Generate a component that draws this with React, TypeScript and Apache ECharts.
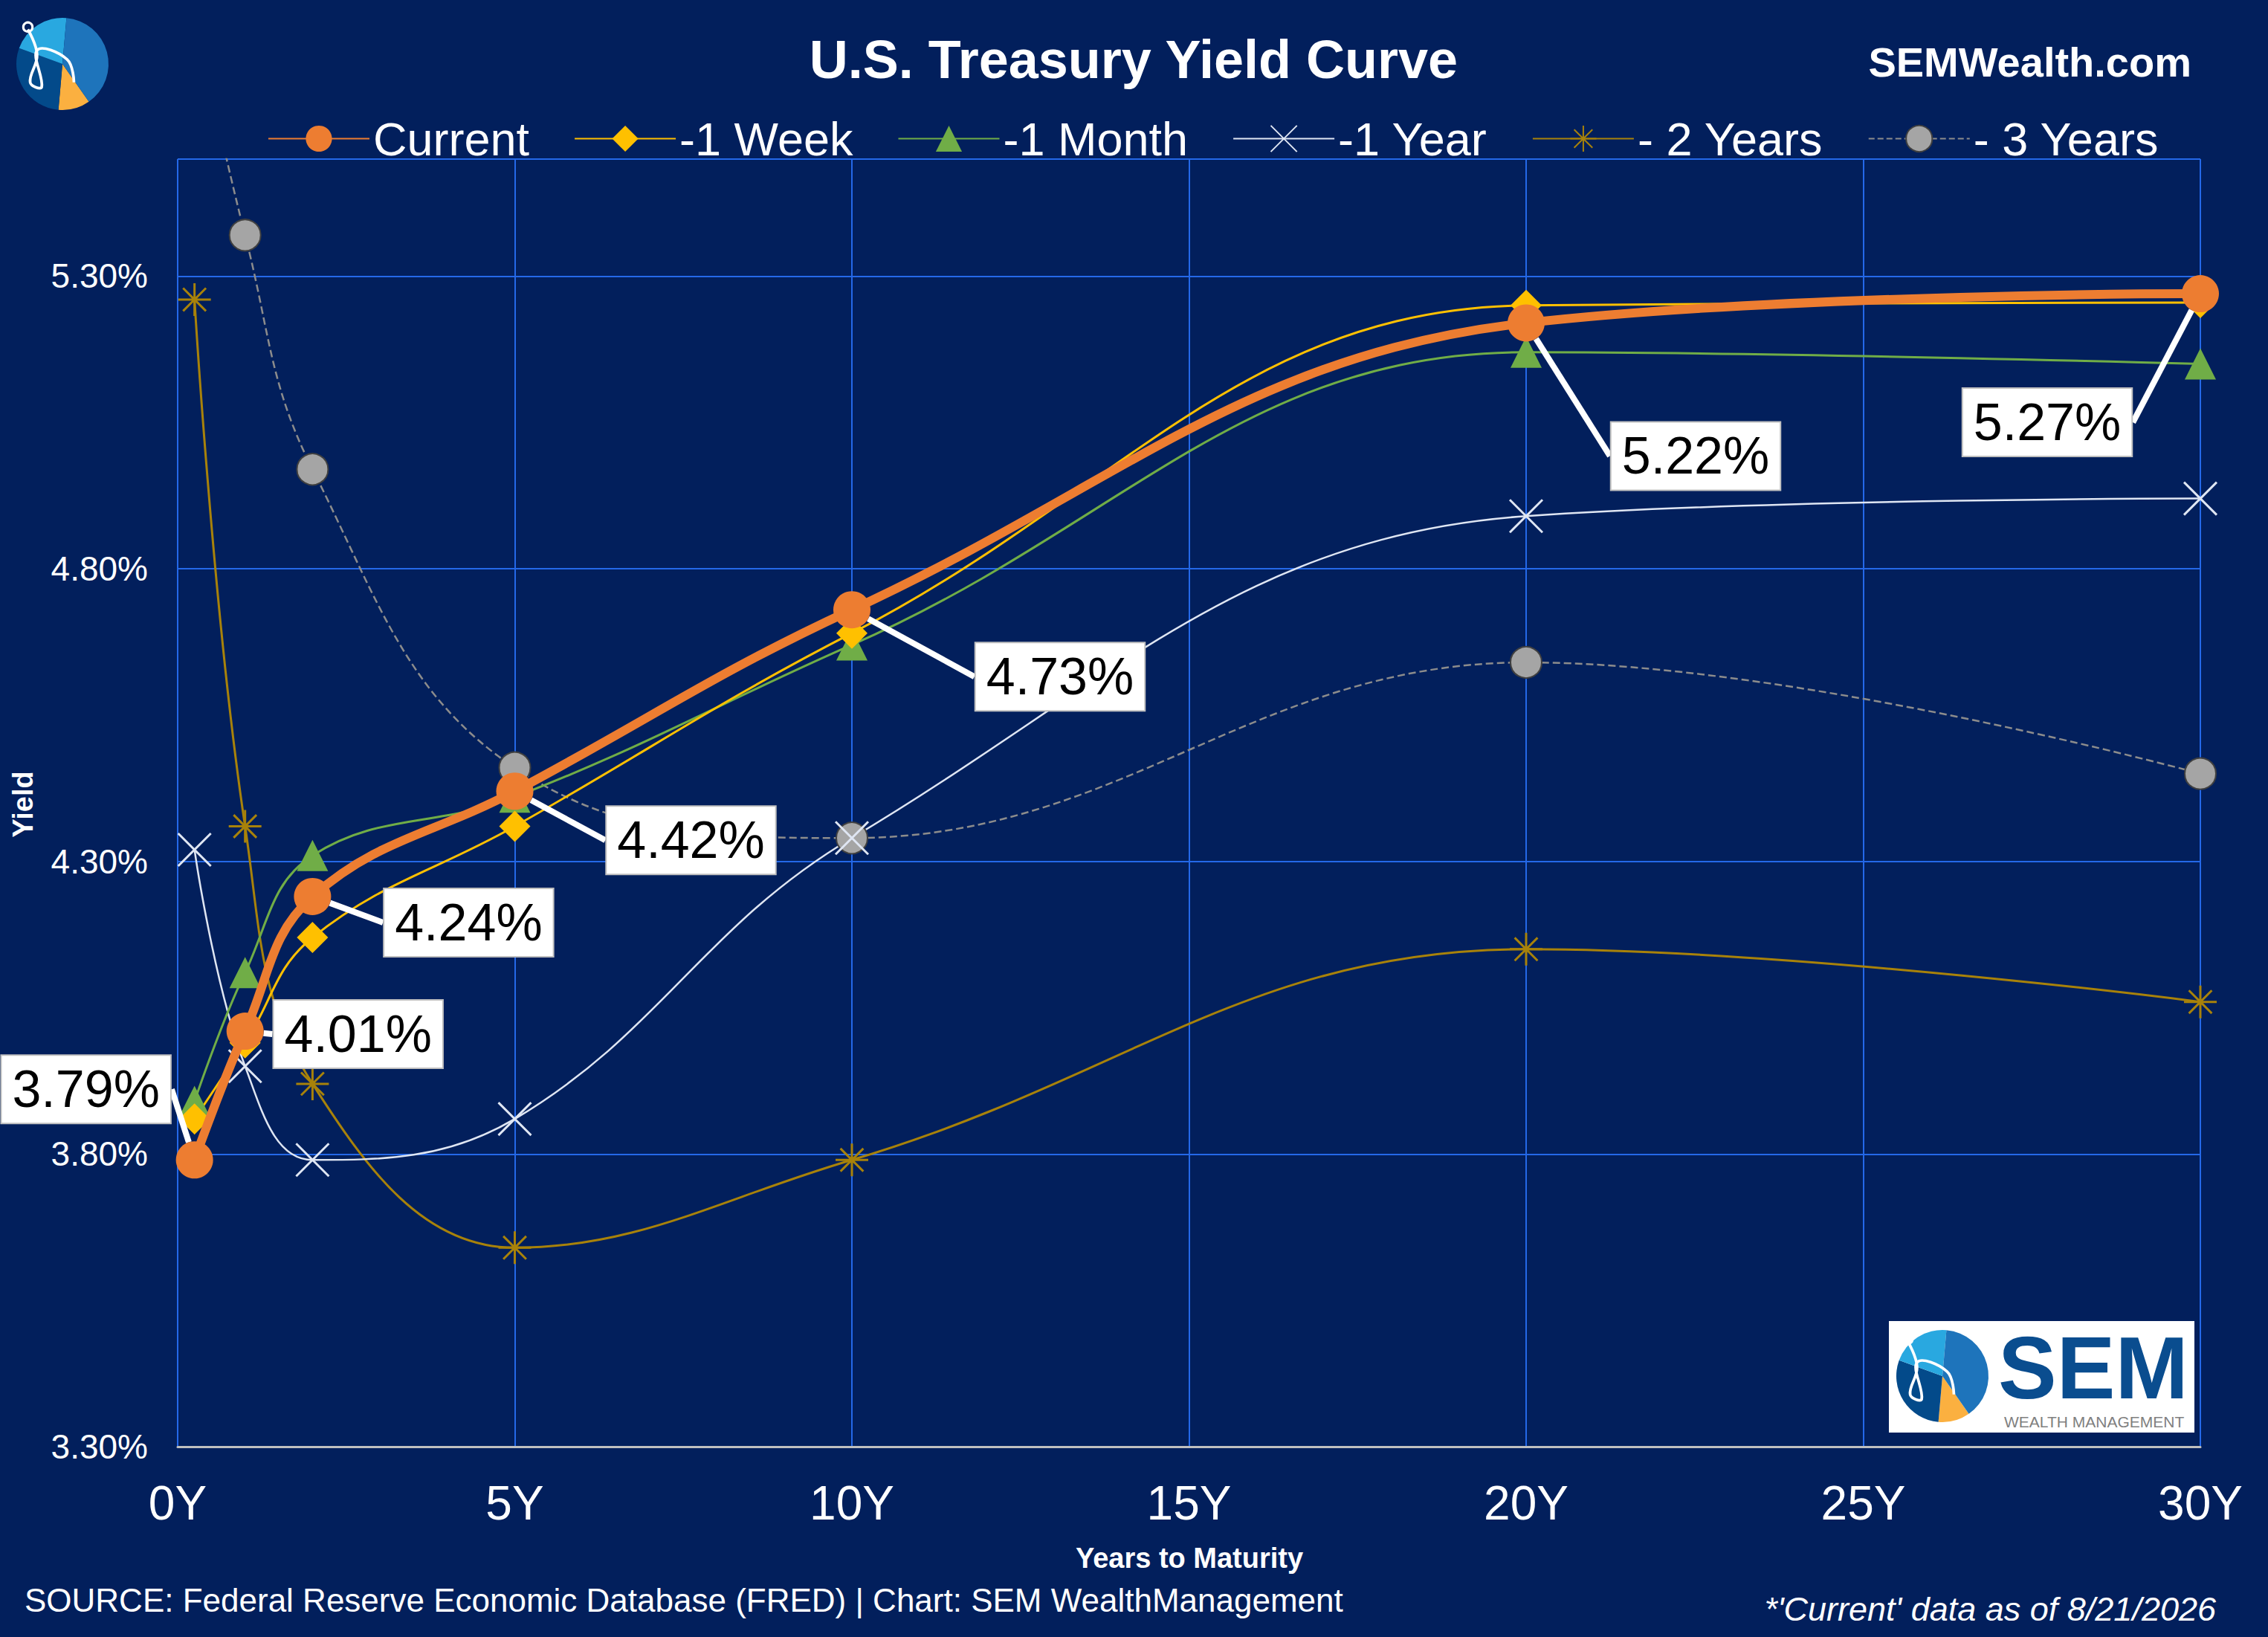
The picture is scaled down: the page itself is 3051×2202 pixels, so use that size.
import { useEffect, useRef } from 'react';
import * as echarts from 'echarts';

const maturities = [0.25, 1, 2, 5, 10, 20, 30];
const current = [3.79, 4.01, 4.24, 4.42, 4.73, 5.22, 5.27];
const oneWeek = [3.86, 3.99, 4.17, 4.36, 4.69, 5.25, 5.255];
const oneMonth = [3.89, 4.11, 4.31, 4.41, 4.67, 5.17, 5.15];
const oneYear = [4.32, 3.95, 3.79, 3.86, 4.34, 4.89, 4.92];
const twoYears = [5.26, 4.36, 3.92, 3.64, 3.79, 4.15, 4.06];
const threeYears = [5.75, 5.37, 4.97, 4.46, 4.34, 4.64, 4.45];
const yTicks = [3.3, 3.8, 4.3, 4.8, 5.3];
// callout offsets for the current-curve labels (px, from the point)
const labelOffsets = [
  [-146, -95], [152, 4], [210, 35], [237, 66], [280, 90], [228, 179], [-206, 173],
];

const BG = '#021f5c';
const FONT = '"Liberation Sans", Arial, sans-serif';

const pairs = (vals: number[]) => maturities.map((m, i) => [m, vals[i]]);

function logo(cx: number, cy: number, r: number) {
  const d = Math.PI / 180;
  const sec = (a: number, b: number, color: string) => ({
    type: 'sector',
    shape: { cx, cy, r, startAngle: a * d, endAngle: b * d },
    style: { fill: color },
  });
  return [
    sec(55, 95, '#fbb040'),
    sec(95, 200, '#034a8a'),
    sec(200, 275, '#29a8e0'),
    sec(275, 415, '#1e74bb'),
    {
      type: 'polyline',
      shape: {
        points: [
          [cx - r * 0.75, cy - r * 0.75], [cx - r * 0.55, cy - r * 0.2],
          [cx - r * 0.7, cy + r * 0.4], [cx - r * 0.45, cy + r * 0.5],
          [cx - r * 0.55, cy - r * 0.3], [cx + r * 0.1, cy - r * 0.1],
          [cx + r * 0.25, cy + r * 0.4],
        ],
        smooth: 0.4,
      },
      style: { stroke: '#fff', lineWidth: r * 0.06, fill: null },
    },
    {
      type: 'circle',
      shape: { cx: cx - r * 0.75, cy: cy - r * 0.8, r: r * 0.1 },
      style: { stroke: '#fff', lineWidth: r * 0.05, fill: null },
    },
  ];
}

export default function App() {
  const ref = useRef<HTMLDivElement>(null);

  useEffect(() => {
    document.body.style.margin = '0';
    if (!ref.current) return;
    const chart = echarts.init(ref.current, undefined, { renderer: 'svg' });

    const lineBase = { type: 'line', smooth: 0.4, smoothMonotone: 'none', clip: true, z: 3 };

    chart.setOption({
      animation: false,
      backgroundColor: BG,
      textStyle: { fontFamily: FONT },
      grid: { left: 239, right: 91, top: 214, bottom: 256 },
      legend: {
        top: 150,
        left: 355,
        itemWidth: 136,
        itemHeight: 44,
        itemGap: 60,
        textStyle: { color: '#fff', fontSize: 63, fontFamily: FONT },
        data: ['Current', '-1 Week', '-1 Month', '-1 Year', '- 2 Years', '- 3 Years'],
      },
      xAxis: {
        type: 'value',
        min: 0,
        max: 30,
        interval: 5,
        axisLine: { lineStyle: { color: '#bfbfbf', width: 3 } },
        axisTick: { show: false },
        axisLabel: { color: '#fff', fontSize: 64, margin: 44, formatter: (v: number) => `${v}Y` },
        splitLine: { lineStyle: { color: '#2468e8', width: 2 } },
      },
      yAxis: {
        type: 'value',
        min: 3.3,
        max: 5.5,
        interval: 0.5,
        axisLine: { show: false },
        axisTick: { show: false },
        axisLabel: {
          color: '#fff',
          fontSize: 46,
          margin: 40,
          formatter: (v: number) => (yTicks.some((t) => Math.abs(t - v) < 1e-6) ? `${v.toFixed(2)}%` : ''),
        },
        splitLine: { lineStyle: { color: '#2468e8', width: 2 } },
      },
      graphic: [
        {
          type: 'text', left: 'center', top: 44,
          style: { text: 'U.S. Treasury Yield Curve', fill: '#fff', font: `bold 72px ${FONT}` },
        },
        {
          type: 'text', right: 103, top: 55,
          style: { text: 'SEMWealth.com', fill: '#fff', font: `bold 56px ${FONT}` },
        },
        {
          type: 'text', x: 1600, y: 2096,
          style: { text: 'Years to Maturity', fill: '#fff', font: `bold 38px ${FONT}`, align: 'center', verticalAlign: 'middle' },
        },
        {
          type: 'text', x: 31, y: 1082, rotation: Math.PI / 2,
          style: { text: 'Yield', fill: '#fff', font: `bold 38px ${FONT}`, align: 'center', verticalAlign: 'middle' },
        },
        {
          type: 'text', x: 33, y: 2152,
          style: { text: 'SOURCE: Federal Reserve Economic Database (FRED) | Chart: SEM WealthManagement', fill: '#fff', font: `44px ${FONT}`, verticalAlign: 'middle' },
        },
        {
          type: 'text', x: 2981, y: 2164,
          style: { text: "*'Current' data as of 8/21/2026", fill: '#fff', font: `italic 45px ${FONT}`, align: 'right', verticalAlign: 'middle' },
        },
        ...logo(84, 86, 62),
        { type: 'rect', shape: { x: 2541, y: 1777, width: 411, height: 150 }, style: { fill: '#fff' }, z: 10 },
        ...logo(2613, 1851, 62).map((e) => ({ ...e, z: 11 })),
        {
          type: 'text', x: 2688, y: 1840, z: 11,
          style: { text: 'SEM', fill: '#0a4d8f', font: `bold 118px ${FONT}`, verticalAlign: 'middle' },
        },
        {
          type: 'text', x: 2696, y: 1912, z: 11,
          style: { text: 'WEALTH MANAGEMENT', fill: '#808080', font: `21px ${FONT}`, verticalAlign: 'middle' },
        },
      ],
      series: [
        {
          ...lineBase, name: '- 3 Years', data: pairs(threeYears),
          symbol: 'circle', symbolSize: 42,
          lineStyle: { color: '#8c8c8c', width: 2.5, type: 'dashed' },
          itemStyle: { color: '#a5a5a5', borderColor: '#404040', borderWidth: 2 },
        },
        {
          ...lineBase, name: '- 2 Years', data: pairs(twoYears),
          symbol: 'path://M5,0L5,10M0,5L10,5M1.5,1.5L8.5,8.5M8.5,1.5L1.5,8.5', symbolSize: 44,
          lineStyle: { color: '#a8820a', width: 3 },
          itemStyle: { color: '#a8820a', borderColor: '#a8820a', borderWidth: 3 },
        },
        {
          ...lineBase, name: '-1 Year', data: pairs(oneYear),
          symbol: 'path://M0,0L10,10M10,0L0,10', symbolSize: 44,
          lineStyle: { color: '#dfe6f3', width: 2.5 },
          itemStyle: { color: '#dfe6f3', borderColor: '#dfe6f3', borderWidth: 3 },
        },
        {
          ...lineBase, name: '-1 Month', data: pairs(oneMonth),
          symbol: 'triangle', symbolSize: 42,
          lineStyle: { color: '#70ad47', width: 3 },
          itemStyle: { color: '#70ad47' },
        },
        {
          ...lineBase, name: '-1 Week', data: pairs(oneWeek),
          symbol: 'diamond', symbolSize: 42,
          lineStyle: { color: '#ffc000', width: 3 },
          itemStyle: { color: '#ffc000' },
        },
        {
          ...lineBase, name: 'Current', data: pairs(current), z: 5,
          symbol: 'circle', symbolSize: 50,
          lineStyle: { color: '#ed7d31', width: 12 },
          itemStyle: { color: '#ed7d31' },
          label: {
            show: true,
            position: 'inside',
            formatter: (p: any) => `${p.value[1].toFixed(2)}%`,
            color: '#000',
            fontSize: 70,
            fontFamily: FONT,
            backgroundColor: '#fff',
            borderColor: '#bfbfbf',
            borderWidth: 2,
            padding: [10, 14],
          },
          labelLayout: (p: any) => ({
            dx: labelOffsets[p.dataIndex][0],
            dy: labelOffsets[p.dataIndex][1],
          }),
          labelLine: { show: true, lineStyle: { color: '#fff', width: 8 } },
        },
      ],
    });

    return () => chart.dispose();
  }, []);

  return <div ref={ref} style={{ width: 3051, height: 2202 }} />;
}
